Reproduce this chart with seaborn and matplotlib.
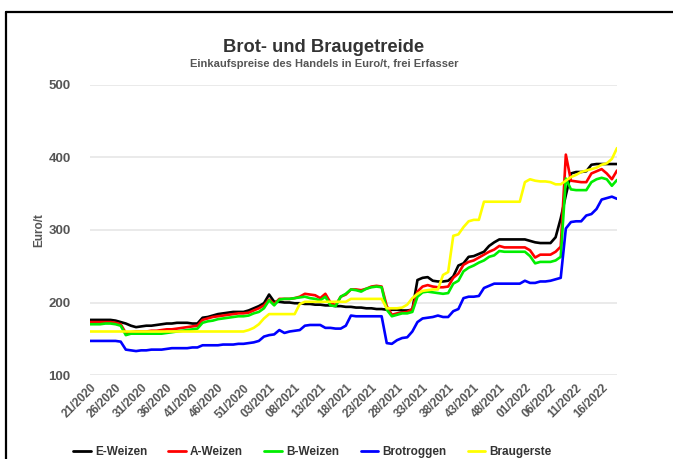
import matplotlib
matplotlib.use("Agg")
import matplotlib.pyplot as plt
from matplotlib.lines import Line2D
import numpy as np
import pandas as pd
import seaborn as sns

# Kalenderwochen 21/2020 bis 19/2022
weeks = ([f"{w:02d}/2020" for w in range(21, 54)]
         + [f"{w:02d}/2021" for w in range(1, 53)]
         + [f"{w:02d}/2022" for w in range(1, 20)])

e_weizen = [176, 176, 176, 176, 176, 175, 173, 171, 168, 166,
            167, 168, 168, 169, 170, 171, 171, 172, 172, 172,
            171, 171, 179, 180, 182, 184, 185, 186, 187, 187,
            187, 189, 192, 195, 199, 211, 201, 201, 200, 200,
            199, 199, 198, 198, 197, 197, 196, 196, 195, 195,
            194, 194, 193, 193, 192, 192, 191, 191, 190, 190,
            190, 189, 189, 190, 231, 234, 235, 230, 229, 229,
            230, 236, 251, 254, 263, 264, 267, 270, 278, 283,
            287, 287, 287, 287, 287, 287, 285, 283, 282, 282,
            282, 290, 316, 348, 378, 380, 380, 381, 390, 391,
            391, 391, 391, 391]

a_weizen = [173, 173, 173, 173, 173, 172, 170, 158, 159, 160,
            160, 160, 161, 161, 162, 163, 163, 164, 165, 166,
            167, 168, 176, 178, 180, 181, 182, 183, 184, 185,
            185, 186, 189, 192, 196, 204, 198, 205, 205, 205,
            206, 208, 212, 211, 210, 206, 212, 200, 196, 208,
            211, 218, 218, 217, 219, 222, 223, 222, 195, 183,
            185, 186, 187, 191, 215, 222, 224, 222, 221, 221,
            222, 234, 240, 252, 256, 258, 262, 266, 270, 273,
            278, 276, 276, 276, 276, 276, 272, 262, 266, 266,
            266, 270, 277, 404, 368, 367, 366, 366, 378, 381,
            384, 378, 370, 382]

b_weizen = [170, 170, 170, 171, 171, 170, 168, 155, 157, 157,
            157, 157, 157, 157, 157, 158, 159, 160, 161, 162,
            163, 164, 172, 174, 175, 177, 178, 179, 180, 181,
            181, 182, 185, 187, 192, 203, 196, 204, 205, 205,
            206, 207, 208, 206, 205, 203, 208, 196, 195, 208,
            212, 218, 217, 215, 219, 221, 222, 221, 190, 181,
            183, 185, 185, 187, 208, 214, 215, 214, 213, 212,
            213, 226, 230, 243, 248, 251, 255, 258, 263, 265,
            271, 270, 270, 270, 270, 270, 264, 254, 256, 256,
            256, 258, 263, 371, 356, 355, 355, 355, 366, 370,
            372, 370, 361, 369]

brotroggen = [147, 147, 147, 147, 147, 147, 146, 135, 134, 133,
              134, 134, 135, 135, 135, 136, 137, 137, 137, 137,
              138, 138, 141, 141, 141, 141, 142, 142, 142, 143,
              143, 144, 145, 147, 153, 155, 156, 162, 158, 160,
              161, 162, 168, 169, 169, 169, 165, 165, 164, 164,
              168, 182, 181, 181, 181, 181, 181, 181, 144, 143,
              148, 151, 152, 160, 173, 178, 179, 180, 182, 180,
              180, 188, 191, 206, 208, 208, 209, 220, 223, 226,
              226, 226, 226, 226, 226, 230, 227, 227, 229, 229,
              230, 232, 234, 302, 311, 312, 312, 320, 322, 329,
              342, 344, 346, 343]

braugerste = [160, 160, 160, 160, 160, 160, 160, 160, 160, 160,
              160, 160, 160, 160, 160, 160, 160, 160, 160, 160,
              160, 160, 160, 160, 160, 160, 160, 160, 160, 160,
              160, 162, 165, 170, 178, 184, 184, 184, 184, 184,
              184, 198, 201, 201, 201, 201, 201, 201, 201, 201,
              201, 205, 205, 205, 205, 205, 205, 205, 192, 192,
              192, 193, 197, 206, 212, 216, 217, 218, 218, 238,
              242, 292, 294, 304, 312, 314, 314, 339, 339, 339,
              339, 339, 339, 339, 339, 366, 370, 368, 367, 367,
              366, 363, 363, 368, 373, 376, 380, 382, 384, 386,
              390, 392, 398, 413]

series_names = ["E-Weizen", "A-Weizen", "B-Weizen", "Brotroggen", "Braugerste"]
series_values = [e_weizen, a_weizen, b_weizen, brotroggen, braugerste]
colors = ["#000000", "#ff0000", "#00ee00", "#0000ff", "#ffff00"]

rows = []
for name, vals in zip(series_names, series_values):
    for i, v in enumerate(vals):
        rows.append({"pos": i, "Woche": weeks[i], "Preis": v, "Sorte": name})
df = pd.DataFrame(rows)

sns.set_style("white")
plt.rcParams["font.family"] = ["Liberation Sans", "DejaVu Sans"]
plt.rcParams["font.weight"] = "bold"

fig = plt.figure(figsize=(6.73, 4.59), dpi=100)
ax = fig.add_axes([90 / 673, 1 - 375 / 459, (617 - 90) / 673, (375 - 85) / 459])

sns.lineplot(data=df, x="pos", y="Preis", hue="Sorte", hue_order=series_names,
             palette=dict(zip(series_names, colors)), linewidth=1.9, ax=ax,
             legend=False)

ax.set_xlim(0, len(weeks) - 1)
ax.set_ylim(100, 500)
ax.set_yticks([100, 200, 300, 400, 500])
ax.grid(axis="y", color="#e6e6e6", linewidth=1.2)
ax.grid(axis="x", visible=False)
for s in ax.spines.values():
    s.set_visible(False)

tick_pos = list(range(0, len(weeks), 5))
ax.set_xticks(tick_pos)
ax.set_xticklabels([weeks[i] for i in tick_pos], rotation=45, ha="right",
                   rotation_mode="anchor", fontsize=8.5, color="#555555",
                   fontweight="bold")
ax.tick_params(axis="x", length=0, pad=5)
ax.tick_params(axis="y", length=0, pad=14, labelsize=9.5, labelcolor="#555555")
for lbl in ax.get_yticklabels():
    lbl.set_fontweight("bold")

ax.set_xlabel("")
ax.set_ylabel("Euro/t", fontsize=8.5, color="#555555", fontweight="bold", labelpad=2)

fig.text(324 / 673, 1 - 48 / 459, "Brot- und Braugetreide", ha="center", va="center",
         fontsize=13.2, fontweight="bold", color="#333333")
fig.text(324 / 673, 1 - 64 / 459, "Einkaufspreise des Handels in Euro/t, frei Erfasser",
         ha="center", va="center", fontsize=8, fontweight="bold", color="#555555")

handles = [Line2D([0], [0], color=c, linewidth=2) for c in colors]
leg = fig.legend(handles, series_names, loc="center left",
                 bbox_to_anchor=(73 / 673, 1 - 452 / 459), ncol=5, frameon=False,
                 fontsize=8.5, handlelength=1.5, handletextpad=0.35,
                 columnspacing=1.8, borderpad=0, borderaxespad=0)
for t in leg.get_texts():
    t.set_color("#333333")
    t.set_fontweight("bold")

# schwarzer Rahmen oben und links
fig.add_artist(Line2D([6 / 673, 6 / 673], [0, 1 - 12 / 459], color="black",
                      linewidth=1.6, transform=fig.transFigure))
fig.add_artist(Line2D([6 / 673, 1], [1 - 12 / 459, 1 - 12 / 459], color="black",
                      linewidth=1.6, transform=fig.transFigure))

fig.savefig("out.png", dpi=100)
